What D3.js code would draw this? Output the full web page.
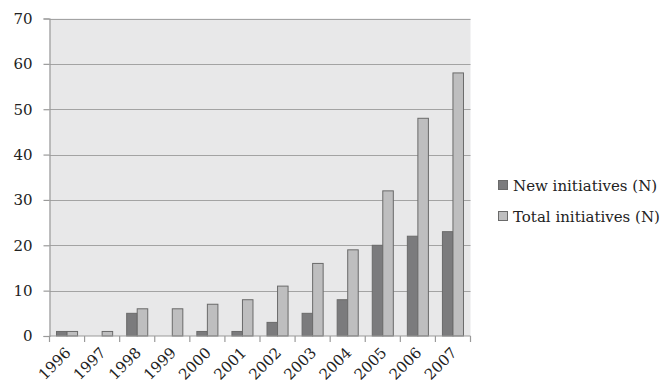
<!DOCTYPE html>
<html>
<head>
<meta charset="utf-8">
<script src="https://cdn.jsdelivr.net/npm/d3@7"></script>
<style>
  html, body { margin: 0; padding: 0; background: #fff; }
  svg { display: block; }
  text { font-family: "DejaVu Serif", "Liberation Serif", serif; fill: #222; }
</style>
</head>
<body>
<svg id="chart" width="671" height="384"></svg>
<script>
const years = ["1996","1997","1998","1999","2000","2001","2002","2003","2004","2005","2006","2007"];
const newInitiatives = [1, 0, 5, 0, 1, 1, 3, 5, 8, 20, 22, 23];
const totalInitiatives = [1, 1, 6, 6, 7, 8, 11, 16, 19, 32, 48, 58];
const seriesNames = ["New initiatives (N)", "Total initiatives (N)"];
const yTicks = [0, 10, 20, 30, 40, 50, 60, 70];

const colors = ["#7b7b7d", "#bebebf"];
const stroke = "#6a6a6a";

const svg = d3.select("#chart");
const m = { left: 49.5, top: 18.5, right: 470.5, bottom: 336 };

const x = d3.scaleBand().domain(years).range([m.left, m.right]).padding(0);
const y = d3.scaleLinear().domain([0, 70]).range([m.bottom, m.top]);
const inner = d3.scaleBand().domain([0, 1])
  .range([x.bandwidth() * 0.2, x.bandwidth() * 0.8]).padding(0);

// plot area
svg.append("rect")
  .attr("x", m.left).attr("y", m.top)
  .attr("width", m.right - m.left).attr("height", m.bottom - m.top)
  .attr("fill", "#e8e8e9");

// horizontal gridlines
svg.append("g").selectAll("line").data(yTicks.filter(d => d > 0)).join("line")
  .attr("x1", m.left).attr("x2", m.right)
  .attr("y1", d => Math.round(y(d)) + 0.5).attr("y2", d => Math.round(y(d)) + 0.5)
  .attr("stroke", "#a3a3a3").attr("stroke-width", 1.2);

// y axis
const yAxis = svg.append("g").attr("transform", `translate(${m.left},0)`)
  .call(d3.axisLeft(y).tickValues(yTicks).tickSize(6).tickPadding(11).tickFormat(d3.format("d")));
yAxis.select(".domain").attr("stroke", "#9a9a9a").attr("stroke-width", 1.2);
yAxis.selectAll(".tick line").attr("stroke", "#9a9a9a").attr("stroke-width", 1.2);
yAxis.selectAll(".tick text").style("font-size", "15px").style("fill", "#222")
  .style("font-family", "'DejaVu Serif', serif");

// bars
const data = years.map((yr, i) => ({ yr, vals: [newInitiatives[i], totalInitiatives[i]] }));
const groups = svg.append("g").selectAll("g").data(data).join("g")
  .attr("transform", d => `translate(${x(d.yr)},0)`);
groups.selectAll("rect").data(d => d.vals.map((v, k) => ({ v, k }))).join("rect")
  .filter(d => d.v > 0)
  .attr("x", d => inner(d.k))
  .attr("width", inner.bandwidth())
  .attr("y", d => y(d.v))
  .attr("height", d => y(0) - y(d.v))
  .attr("fill", d => colors[d.k])
  .attr("stroke", stroke).attr("stroke-width", 1);

// x axis with ticks on category boundaries
const xa = svg.append("g");
xa.append("line")
  .attr("x1", m.left).attr("x2", m.right).attr("y1", m.bottom).attr("y2", m.bottom)
  .attr("stroke", "#9a9a9a").attr("stroke-width", 1.2);
const bounds = years.map(d => x(d)).concat([m.right]);
xa.selectAll("line.tk").data(bounds).join("line").attr("class", "tk")
  .attr("x1", d => d).attr("x2", d => d)
  .attr("y1", m.bottom).attr("y2", m.bottom + 6)
  .attr("stroke", "#9a9a9a").attr("stroke-width", 1.2);
xa.selectAll("text").data(years).join("text")
  .attr("transform", d => `translate(${x(d) + x.bandwidth() / 2 + 1},${m.bottom + 14}) rotate(-45)`)
  .attr("text-anchor", "end")
  .attr("dy", "0.35em")
  .style("font-size", "15px")
  .text(d => d);

// legend
const lg = svg.append("g").attr("transform", "translate(498,180)");
seriesNames.forEach((name, k) => {
  const g = lg.append("g").attr("transform", `translate(0,${k * 31})`);
  g.append("rect").attr("x", 0.5).attr("y", 0.5).attr("width", 9).attr("height", 9)
    .attr("fill", colors[k]).attr("stroke", stroke);
  g.append("text").attr("x", 15).attr("y", 11).style("font-size", "15px").text(name);
});
</script>
</body>
</html>
